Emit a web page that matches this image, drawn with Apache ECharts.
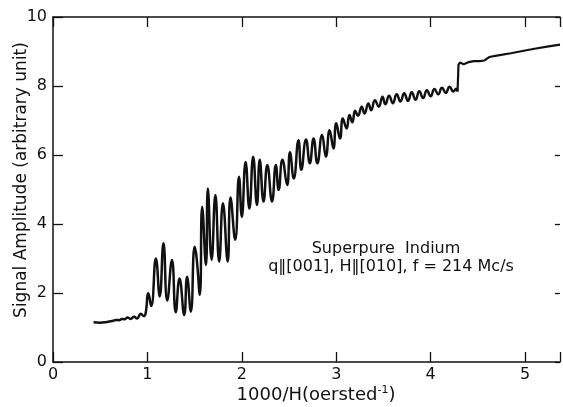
<!DOCTYPE html>
<html>
<head>
<meta charset="utf-8">
<script src="https://cdn.jsdelivr.net/npm/echarts@6/dist/echarts.min.js"></script>
<style>
html,body{margin:0;padding:0;background:#fff;}
#c{width:563px;height:407px;}
</style>
</head>
<body>
<div id="c"></div>
<script>
// ---- data ----
const xTicks = [0, 1, 2, 3, 4, 5];
const yTicks = [0, 2, 4, 6, 8, 10];
const invH = [
  0.43,0.50,0.57,0.63,0.67,0.70,0.73,0.76,0.79,0.82,0.86,0.89,0.93,0.96,0.98,
  1.01,1.04,1.09,1.13,1.17,1.21,1.26,1.30,1.34,1.39,1.42,1.46,1.50,1.52,1.555,
  1.58,1.62,1.64,1.68,1.72,1.76,1.80,1.85,1.88,1.93,1.97,2.00,2.04,2.08,2.12,
  2.16,2.19,2.23,2.27,2.32,2.36,2.39,2.43,2.48,2.51,2.55,2.60,2.63,2.68,2.72,
  2.76,2.80,2.85,2.89,2.93,2.97,3.00,3.04,3.07,3.11,3.14,3.17,3.20,3.23,3.27,
  3.30,3.34,3.37,3.41,3.45,3.49,3.52,3.56,3.60,3.64,3.68,3.72,3.76,3.80,3.84,
  3.88,3.92,3.96,4.00,4.04,4.08,4.12,4.16,4.20,4.24,4.27,4.285,
  4.295,4.31,4.35,4.40,4.46,4.52,4.57,4.62,4.70,4.85,5.00,5.10,5.25,5.37
];
const amplitude = [
  1.15,1.14,1.16,1.19,1.22,1.21,1.25,1.24,1.29,1.25,1.31,1.26,1.40,1.33,1.40,
  1.99,1.62,3.00,1.90,3.44,1.78,2.96,1.44,2.42,1.36,2.47,1.46,3.34,3.05,1.95,
  4.50,2.81,5.03,2.96,4.84,2.91,4.60,2.91,4.77,3.54,5.37,4.21,5.80,4.45,5.95,
  4.55,5.86,4.65,5.71,4.65,5.71,4.99,5.86,5.13,6.08,5.32,6.43,5.57,6.45,5.76,
  6.48,5.76,6.58,5.95,6.72,6.19,6.92,6.48,7.06,6.77,7.16,6.95,7.28,7.14,7.40,
  7.20,7.49,7.30,7.59,7.40,7.69,7.47,7.72,7.50,7.76,7.55,7.79,7.57,7.82,7.60,
  7.85,7.65,7.88,7.70,7.91,7.76,7.95,7.80,7.98,7.84,7.92,7.84,
  8.62,8.68,8.63,8.69,8.72,8.72,8.74,8.84,8.88,8.95,9.03,9.08,9.15,9.20
];
const JUMP_X = 4.285;
const titleLine1 = 'Superpure  Indium';
const titleLine2 = 'q\u2016[001], H\u2016[010], f = 214 Mc/s';
const xName = '1000/H(oersted';
const yName = 'Signal Amplitude (arbitrary unit)';

// ---- build ----
const pts = invH.map((x, i) => [x, amplitude[i]]);
const oscill = pts.filter(p => p[0] <= JUMP_X);
const after = pts.filter(p => p[0] >= JUMP_X);

const FONT = '"DejaVu Sans", "Liberation Sans", sans-serif';
const INK = '#111';

const chart = echarts.init(document.getElementById('c'), null, {renderer: 'canvas'});
function axis(extra) {
  return Object.assign({
    type: 'value',
    splitLine: {show: false},
    axisLine: {show: true, onZero: false, lineStyle: {color: INK, width: 1.5}},
    axisTick: {show: true, inside: true, length: 10, lineStyle: {color: INK, width: 1.3}},
  }, extra);
}
chart.setOption({
  animation: false,
  backgroundColor: '#fff',
  grid: {left: 53, right: 0, top: 17, bottom: 45, containLabel: false},
  xAxis: [
    axis({
      position: 'bottom', min: xTicks[0], max: 5.37, interval: 1,
      axisLabel: {margin: 5, fontSize: 16, fontFamily: FONT, color: INK,
        formatter: v => xTicks.indexOf(v) >= 0 ? String(v) : ''}
    }),
    axis({
      position: 'top', min: xTicks[0], max: 5.37, interval: 1,
      axisLabel: {show: false}
    })
  ],
  yAxis: [
    axis({
      position: 'left', min: yTicks[0], max: yTicks[yTicks.length - 1], interval: 2,
      axisLabel: {margin: 6, fontSize: 16, fontFamily: FONT, color: INK}
    }),
    axis({
      position: 'right', min: yTicks[0], max: yTicks[yTicks.length - 1], interval: 2,
      axisLine: {show: false, onZero: false},
      axisTick: {show: true, inside: true, length: 5, lineStyle: {color: INK, width: 1.3}},
      axisLabel: {show: false}
    })
  ],
  series: [
    {type: 'line', data: oscill, showSymbol: false, smooth: 0.5,
     lineStyle: {color: INK, width: 2.5}, xAxisIndex: 0, yAxisIndex: 0},
    {type: 'line', data: after, showSymbol: false, smooth: false,
     lineStyle: {color: INK, width: 2.2}, xAxisIndex: 0, yAxisIndex: 0}
  ],
  graphic: [
    {type: 'text', x: 22, y: 180, rotation: Math.PI / 2,
     style: {text: yName, align: 'center', verticalAlign: 'middle',
       font: '17px ' + FONT, fill: INK}},
    {type: 'text', x: 316, y: 395,
     style: {text: xName + '{sup|-1})', align: 'center', verticalAlign: 'middle',
       font: '18px ' + FONT, fill: INK,
       rich: {sup: {fontSize: 11, fontFamily: FONT, fill: INK, padding: [0, 0, 10, 0]}}}},
    {type: 'text', x: 386, y: 249,
     style: {text: titleLine1, align: 'center', verticalAlign: 'middle',
       font: '16px ' + FONT, fill: INK}},
    {type: 'text', x: 391, y: 267,
     style: {text: titleLine2, align: 'center', verticalAlign: 'middle',
       font: '16px ' + FONT, fill: INK}}
  ]
});
</script>
</body>
</html>
